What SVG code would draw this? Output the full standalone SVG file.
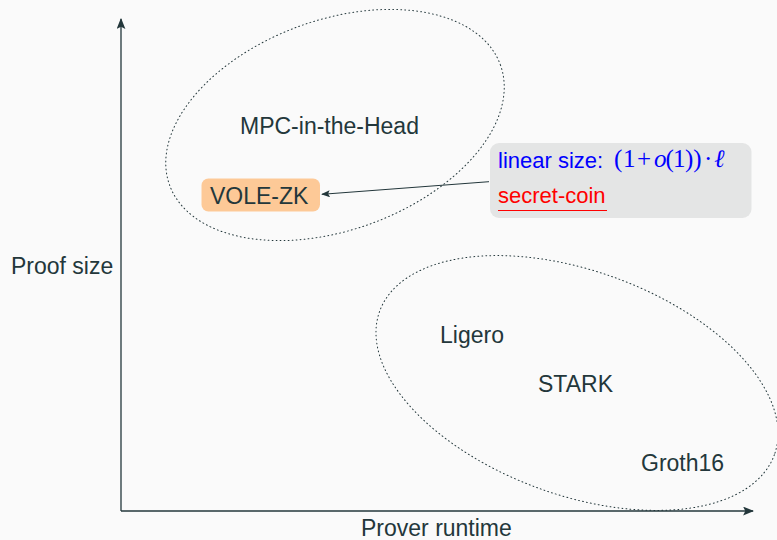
<svg xmlns="http://www.w3.org/2000/svg" width="777" height="540" viewBox="0 0 777 540">
  <style>
    .lbl { font-family: "Liberation Sans", Arial, sans-serif; font-size: 23px; fill: #23373b; }
    .region { fill: none; stroke: #23373b; stroke-width: 1; stroke-dasharray: 0.9 3.1; stroke-linecap: round; }
    .axis { stroke: #23373b; stroke-width: 1.3; fill: none; }
    .math { font-family: "Liberation Serif", "Times New Roman", serif; font-size: 25px; fill: #0000ff; }
  </style>
  <defs>
    <marker id="axisHead" viewBox="0 0 10 8" refX="9" refY="4" markerWidth="11" markerHeight="9" markerUnits="userSpaceOnUse" orient="auto">
      <path d="M0,0 L10,4 L0,8 L2,4 Z" fill="#23373b"/>
    </marker>
    <marker id="linkHead" viewBox="0 0 10 8" refX="9" refY="4" markerWidth="9" markerHeight="7" markerUnits="userSpaceOnUse" orient="auto">
      <path d="M0,0 L10,4 L0,8 L2,4 Z" fill="#23373b"/>
    </marker>
  </defs>

  <rect width="777" height="540" fill="#fafafa"/>

  <!-- axes -->
  <g id="axes">
    <line class="axis" x1="121" y1="511" x2="121" y2="19" marker-end="url(#axisHead)"/>
    <line class="axis" x1="121" y1="511" x2="753" y2="511" marker-end="url(#axisHead)"/>
    <text class="lbl" x="11" y="274">Proof size</text>
    <text class="lbl" x="361" y="536">Prover runtime</text>
  </g>

  <!-- dotted regions -->
  <g id="region-mpc">
    <ellipse class="region" cx="335" cy="125" rx="176" ry="105" transform="rotate(-20 335 125)"/>
    <text class="lbl" x="240" y="134">MPC-in-the-Head</text>
  </g>
  <g id="region-succinct">
    <ellipse class="region" cx="577" cy="383" rx="210" ry="112" transform="rotate(20 577 383)"/>
  </g>

  <g id="node-vole">
    <rect x="201.5" y="178.5" width="118.5" height="33" rx="7" fill="#fdc997"/>
    <text class="lbl" x="210" y="203.5">VOLE-ZK</text>
  </g>

  <g id="node-ligero">
    <text class="lbl" x="440" y="343">Ligero</text>
  </g>
  <g id="node-stark">
    <text class="lbl" x="538" y="392">STARK</text>
  </g>
  <g id="node-groth">
    <text class="lbl" x="641" y="471">Groth16</text>
  </g>

  <g id="note">
    <rect x="490" y="143" width="261.5" height="75" rx="9" fill="#e4e5e5"/>
    <text class="lbl" x="498" y="168" style="fill:#0000ff;font-size:22px">linear size:</text>
    <text class="math" y="167">
      <tspan x="614">(</tspan><tspan x="623">1</tspan><tspan x="637">+</tspan><tspan x="654" font-style="italic">o</tspan><tspan x="665.5">(</tspan><tspan x="673">1</tspan><tspan x="685">))</tspan><tspan x="704">·</tspan><tspan x="714" font-style="italic">ℓ</tspan>
    </text>
    <text class="lbl" x="498" y="203" style="fill:#ff0000;font-size:22px">secret-coin</text>
    <line x1="498" y1="210.5" x2="607" y2="210.5" stroke="#ff0000" stroke-width="1.2"/>
  </g>

  <!-- connectors -->
  <g id="connectors">
    <line x1="489" y1="181.7" x2="322" y2="194.3" stroke="#23373b" stroke-width="1" marker-end="url(#linkHead)"/>
  </g>
</svg>
